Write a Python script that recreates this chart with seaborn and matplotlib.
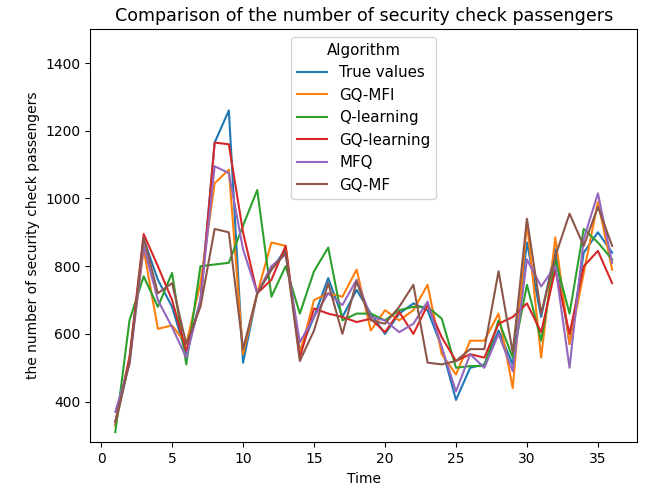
import matplotlib.pyplot as plt
import pandas as pd
import seaborn as sns

time = list(range(1, 37))

true_values = [330, 520, 880, 760, 680, 540, 700, 1165, 1260, 515, 720, 790, 850, 550, 650, 765, 650, 730,
               660, 600, 660, 690, 670, 560, 405, 500, 510, 610, 510, 870, 650, 850, 570, 840, 900, 840]
gq_mfi = [330, 530, 850, 615, 625, 570, 750, 1045, 1085, 540, 720, 870, 860, 540, 700, 720, 710, 790,
          610, 670, 640, 670, 745, 540, 480, 580, 580, 660, 440, 930, 530, 885, 570, 780, 990, 790]
q_learning = [310, 640, 770, 680, 780, 510, 800, 805, 810, 920, 1025, 710, 800, 660, 785, 855, 640, 660,
              660, 640, 670, 680, 680, 645, 500, 505, 505, 640, 530, 745, 580, 820, 660, 910, 870, 820]
gq_learning = [340, 530, 895, 800, 700, 550, 690, 1165, 1160, 900, 720, 760, 860, 530, 675, 660, 650, 635,
               645, 605, 665, 600, 685, 590, 520, 540, 530, 630, 650, 690, 605, 790, 600, 800, 845, 750]
mfq = [370, 510, 860, 700, 620, 530, 700, 1095, 1075, 850, 720, 800, 835, 575, 650, 720, 685, 760,
       650, 640, 605, 630, 695, 560, 430, 540, 500, 600, 490, 820, 740, 800, 500, 880, 1015, 810]
gq_mf = [340, 515, 885, 720, 750, 570, 680, 910, 900, 555, 720, 790, 840, 520, 610, 750, 600, 755,
         640, 630, 680, 745, 515, 510, 520, 555, 555, 785, 545, 940, 660, 830, 955, 860, 975, 860]

series = {
    "True values": true_values,
    "GQ-MFI": gq_mfi,
    "Q-learning": q_learning,
    "GQ-learning": gq_learning,
    "MFQ": mfq,
    "GQ-MF": gq_mf,
}

df = pd.concat(
    [pd.DataFrame({"Time": time, "value": vals, "Algorithm": name}) for name, vals in series.items()],
    ignore_index=True,
)

fig, ax = plt.subplots(figsize=(6.46, 4.86), dpi=100)
sns.lineplot(data=df, x="Time", y="value", hue="Algorithm", palette="tab10", ax=ax)
ax.set_ylim(280, 1500)
ax.set_title("Comparison of the number of security check passengers", fontsize=12.6)
ax.set_xlabel("Time")
ax.set_ylabel("the number of security check passengers")
ax.legend(title="Algorithm", loc="upper center", fontsize=10.8, title_fontsize=10.8)
fig.subplots_adjust(left=0.14, right=0.986, bottom=0.09, top=0.94)
fig.savefig("out.png", dpi=100)
